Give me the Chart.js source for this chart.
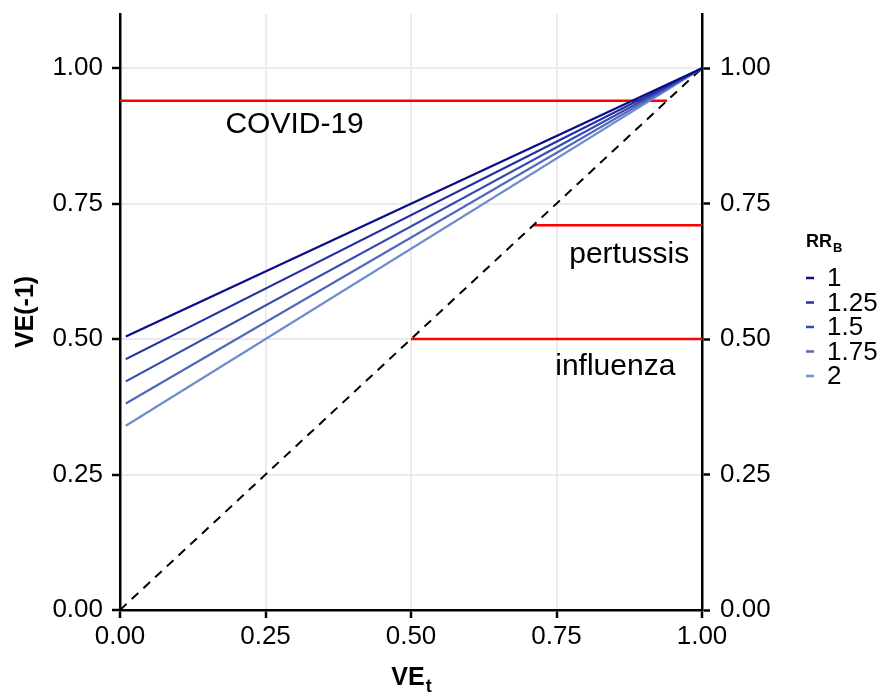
<!DOCTYPE html>
<html>
<head>
<meta charset="utf-8">
<script src="https://cdn.jsdelivr.net/npm/chart.js@4.4.1/dist/chart.umd.min.js"></script>
<style>
  html, body { margin: 0; padding: 0; background: #fff; }
  #wrap { width: 886px; height: 696px; }
</style>
</head>
<body>
<div id="wrap"><canvas id="c" width="886" height="696"></canvas></div>
<script>
// ---- data ----
const rrBLabels = ['1', '1.25', '1.5', '1.75', '2'];
const rrBColors = ['#0b0b8b', '#2030a0', '#3649ad', '#5068bd', '#6f8dcc'];
const veT = [0.01, 1.00];
const veMinus1_RR1 = [0.505, 1.00];
const veMinus1_RR125 = [0.463, 1.00];
const veMinus1_RR15 = [0.422, 1.00];
const veMinus1_RR175 = [0.381, 1.00];
const veMinus1_RR2 = [0.340, 1.00];
const rrSeries = [veMinus1_RR1, veMinus1_RR125, veMinus1_RR15, veMinus1_RR175, veMinus1_RR2];

const diagX = [0, 1];
const diagY = [0, 1];

const diseases = ['COVID-19', 'pertussis', 'influenza'];
const diseaseVE = [0.94, 0.71, 0.50];
const segStart = [0.00, 0.71, 0.50];
const segEnd = [0.94, 1.00, 1.00];
const labelX = [0.30, 0.875, 0.851];
const labelY = [0.880, 0.640, 0.433];

const tickValues = [0, 0.25, 0.5, 0.75, 1.0];

// ---- datasets ----
const pts = (xs, ys) => xs.map((x, i) => ({ x: x, y: ys[i] }));
const datasets = [];
rrSeries.forEach((ys, i) => {
  datasets.push({ label: rrBLabels[i], data: pts(veT, ys), borderColor: rrBColors[i],
    borderWidth: 2.2, pointRadius: 0, fill: false, tension: 0 });
});
datasets.push({ label: 'diag', data: pts(diagX, diagY), borderColor: '#000', borderWidth: 2,
  borderDash: [9, 7], pointRadius: 0, fill: false });
diseases.forEach((d, i) => {
  datasets.push({ label: d, data: [{ x: segStart[i], y: diseaseVE[i] }, { x: segEnd[i], y: diseaseVE[i] }],
    borderColor: '#ff0000', borderWidth: 2.5, pointRadius: 0, fill: false });
});

const FONT = "'Liberation Sans', Arial, sans-serif";

const extras = {
  id: 'extras',
  afterDatasetsDraw(chart) {
    const ctx = chart.ctx, xs = chart.scales.x, ys = chart.scales.y;
    ctx.save();
    ctx.fillStyle = '#000';
    ctx.font = '30px ' + FONT;
    ctx.textAlign = 'center';
    ctx.textBaseline = 'alphabetic';
    diseases.forEach((d, i) => {
      ctx.fillText(d, xs.getPixelForValue(labelX[i]), ys.getPixelForValue(labelY[i]));
    });
    ctx.restore();
  },
  afterDraw(chart) {
    const ctx = chart.ctx, ca = chart.chartArea;
    ctx.save();
    ctx.fillStyle = '#000';
    // y title
    ctx.font = 'bold 25px ' + FONT;
    ctx.translate(33, (ca.top + ca.bottom) / 2);
    ctx.rotate(-Math.PI / 2);
    ctx.textAlign = 'center';
    ctx.textBaseline = 'alphabetic';
    ctx.fillText('VE(-1)', 0, 0);
    ctx.setTransform(1, 0, 0, 1, 0, 0);
    // x title with subscript
    ctx.textAlign = 'left';
    ctx.font = 'bold 25px ' + FONT;
    const w1 = ctx.measureText('VE').width;
    ctx.font = 'bold 18px ' + FONT;
    const w2 = ctx.measureText('t').width;
    const cx = (ca.left + ca.right) / 2;
    const x0 = cx - (w1 + w2) / 2;
    ctx.font = 'bold 25px ' + FONT;
    ctx.fillText('VE', x0, 685);
    ctx.font = 'bold 18px ' + FONT;
    ctx.fillText('t', x0 + w1 + 1, 692);
    // legend
    ctx.font = 'bold 18px ' + FONT;
    ctx.fillText('RR', 806, 247);
    const wr = ctx.measureText('RR').width;
    ctx.font = 'bold 13px ' + FONT;
    ctx.fillText('B', 806 + wr + 1, 252);
    ctx.font = '26px ' + FONT;
    ctx.textBaseline = 'middle';
    rrBLabels.forEach((lab, i) => {
      const y = 278 + i * 24.5;
      ctx.strokeStyle = rrBColors[i];
      ctx.lineWidth = 2.5;
      ctx.beginPath();
      ctx.moveTo(806, y); ctx.lineTo(814, y);
      ctx.stroke();
      ctx.fillStyle = '#000';
      ctx.fillText(lab, 827, y + 1);
    });
    ctx.restore();
  }
};

const setTicks = (s) => { s.ticks = tickValues.map(v => ({ value: v })); };
const zeroPad = (s) => { s.paddingTop = 0; s.paddingBottom = 0; s.paddingLeft = 0; s.paddingRight = 0; };

new Chart(document.getElementById('c'), {
  type: 'line',
  data: { datasets: datasets },
  options: {
    responsive: false,
    animation: false,
    devicePixelRatio: 1,
    layout: { padding: { top: 14, left: 0, right: 0, bottom: 0 } },
    plugins: { legend: { display: false }, tooltip: { enabled: false } },
    scales: {
      x: {
        type: 'linear', min: 0, max: 1,
        afterBuildTicks: setTicks,
        afterFit: (s) => { s.height = 86; zeroPad(s); },
        ticks: { callback: v => v.toFixed(2), color: '#000', font: { size: 26, family: FONT }, padding: 3, maxRotation: 0 },
        grid: { color: '#ebebeb', lineWidth: 2, tickColor: '#000', tickLength: 8, tickWidth: 2.5 },
        border: { color: '#000', width: 2.5 }
      },
      y: {
        type: 'linear', position: 'left', min: 0, max: 1.1,
        afterBuildTicks: setTicks,
        afterFit: (s) => { s.width = 120; zeroPad(s); },
        ticks: { callback: v => v.toFixed(2), color: '#000', font: { size: 26, family: FONT }, padding: 9 },
        grid: { color: '#ebebeb', lineWidth: 2, tickColor: '#000', tickLength: 8, tickWidth: 2.5 },
        border: { color: '#000', width: 2.5 }
      },
      y2: {
        type: 'linear', position: 'right', min: 0, max: 1.1,
        afterBuildTicks: setTicks,
        afterFit: (s) => { s.width = 184; zeroPad(s); },
        ticks: { callback: v => v.toFixed(2), color: '#000', font: { size: 26, family: FONT }, padding: 10 },
        grid: { drawOnChartArea: false, tickColor: '#000', tickLength: 8, tickWidth: 2.5 },
        border: { color: '#000', width: 2.5 }
      }
    }
  },
  plugins: [extras]
});
</script>
</body>
</html>
